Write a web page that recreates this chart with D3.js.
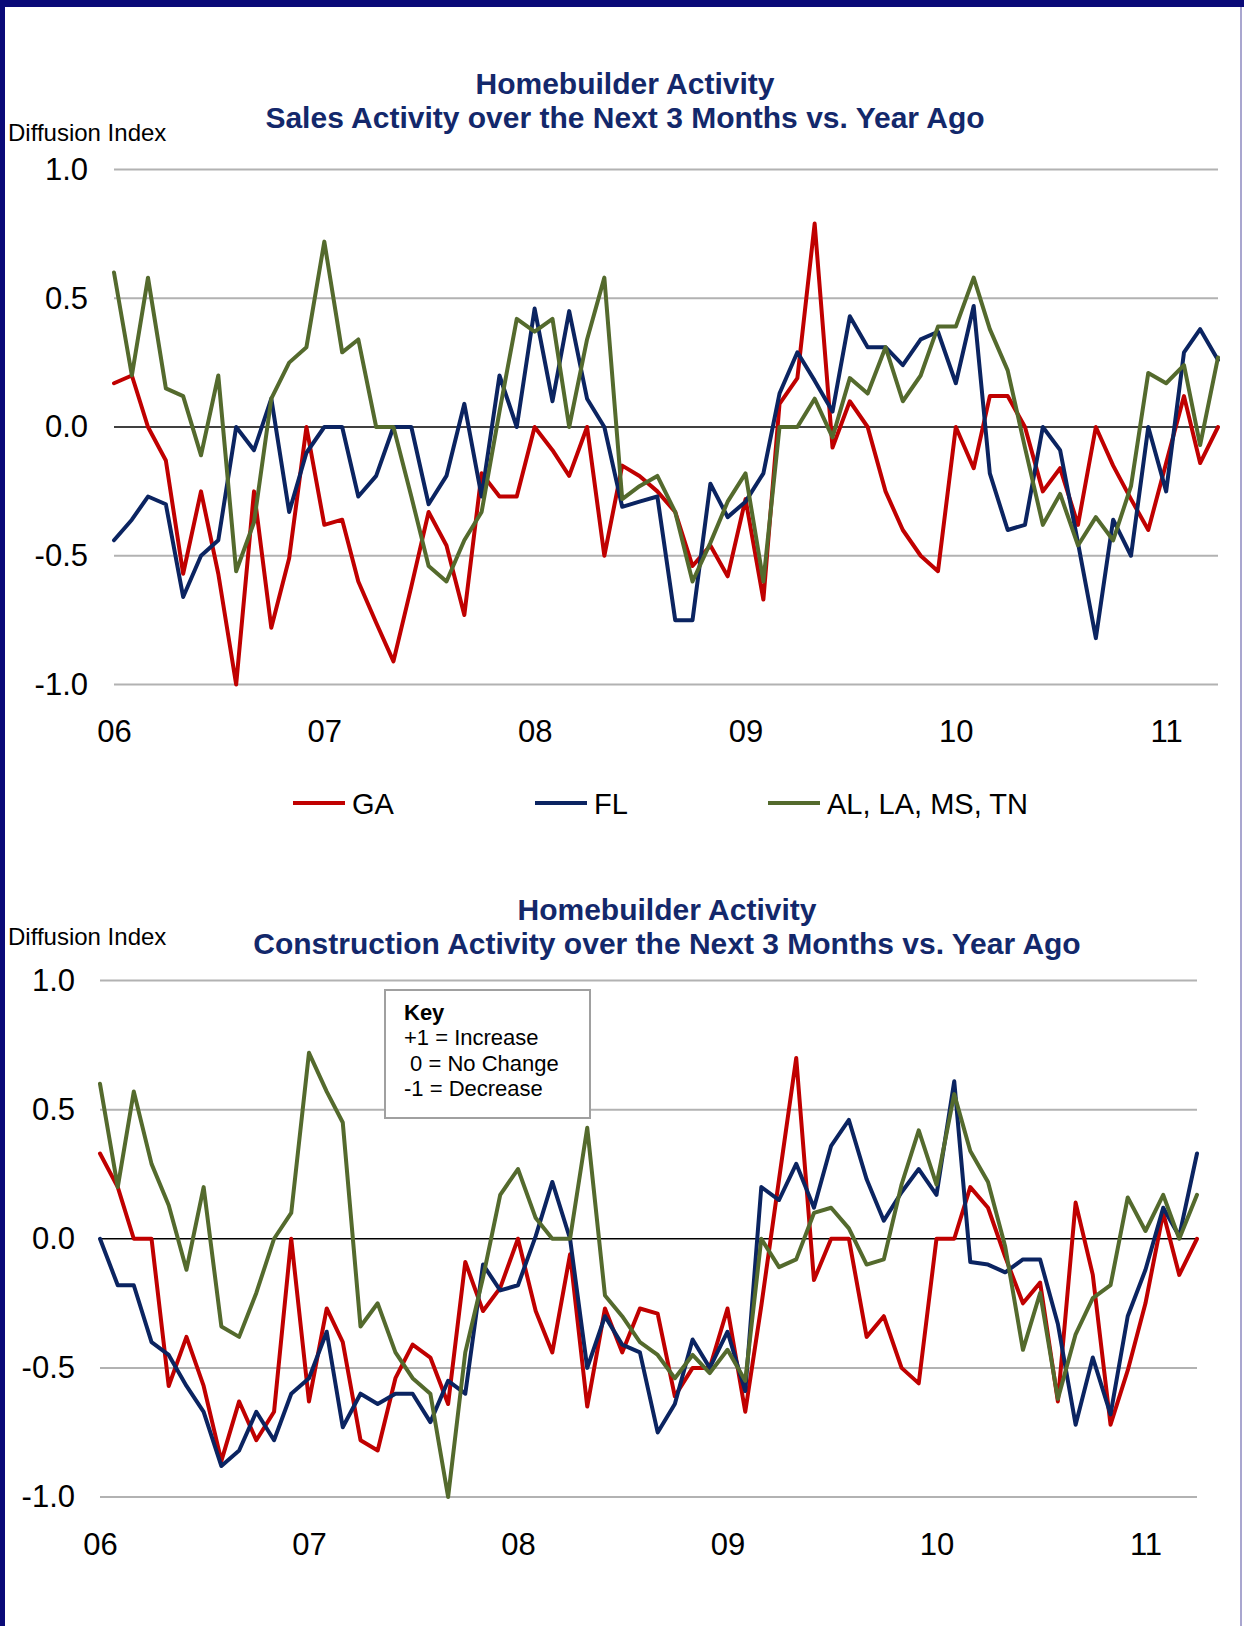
<!DOCTYPE html>
<html>
<head>
<meta charset="utf-8">
<script src="https://cdn.jsdelivr.net/npm/d3@7"></script>
<style>
  body { margin: 0; background: #fff; }
  svg { display: block; }
</style>
</head>
<body>
<svg id="chart" width="1244" height="1626"></svg>
<script>
// ---- data -------------------------------------------------------------
const yearLabels = ["06", "07", "08", "09", "10", "11"];
const yTicks = [1.0, 0.5, 0.0, -0.5, -1.0];
const seriesNames = ["GA", "FL", "AL, LA, MS, TN"];
const keyLines = ["+1 = Increase", " 0 = No Change", "-1 = Decrease"];

// monthly survey, Jan 2006 - Apr 2011
const startMonth = new Date(2006, 0, 1);
const endMonth = new Date(2011, 4, 1);

// Sales activity over the next 3 months vs. year ago
const salesGA = [0.17, 0.20, 0.00, -0.13, -0.57, -0.25, -0.57, -1.00, -0.25, -0.78, -0.51, 0.00,
  -0.38, -0.36, -0.60, -0.76, -0.91, -0.62, -0.33, -0.46, -0.73, -0.18, -0.27, -0.27,
  0.00, -0.09, -0.19, 0.00, -0.50, -0.15, -0.19, -0.25, -0.33, -0.54, -0.46, -0.58,
  -0.28, -0.67, 0.09, 0.19, 0.79, -0.08, 0.10, 0.00, -0.25, -0.40, -0.50, -0.56,
  0.00, -0.16, 0.12, 0.12, 0.00, -0.25, -0.16, -0.38, 0.00, -0.15, -0.28, -0.40,
  -0.14, 0.12, -0.14, 0.00];
const salesFL = [-0.44, -0.36, -0.27, -0.30, -0.66, -0.50, -0.44, 0.00, -0.09, 0.11, -0.33, -0.10,
  0.00, 0.00, -0.27, -0.19, 0.00, 0.00, -0.30, -0.19, 0.09, -0.27, 0.20, 0.00,
  0.46, 0.10, 0.45, 0.11, 0.00, -0.31, -0.29, -0.27, -0.75, -0.75, -0.22, -0.35,
  -0.29, -0.18, 0.13, 0.29, 0.18, 0.06, 0.43, 0.31, 0.31, 0.24, 0.34, 0.37,
  0.17, 0.47, -0.18, -0.40, -0.38, 0.00, -0.09, -0.45, -0.82, -0.36, -0.50, 0.00,
  -0.25, 0.29, 0.38, 0.26];
const salesALLAMSTN = [0.60, 0.20, 0.58, 0.15, 0.12, -0.11, 0.20, -0.56, -0.37, 0.11, 0.25, 0.31,
  0.72, 0.29, 0.34, 0.00, 0.00, -0.27, -0.54, -0.60, -0.44, -0.33, 0.06, 0.42,
  0.37, 0.42, 0.00, 0.34, 0.58, -0.28, -0.23, -0.19, -0.33, -0.60, -0.45, -0.29,
  -0.18, -0.60, 0.00, 0.00, 0.11, -0.04, 0.19, 0.13, 0.31, 0.10, 0.20, 0.39,
  0.39, 0.58, 0.38, 0.22, -0.08, -0.38, -0.26, -0.46, -0.35, -0.44, -0.23, 0.21,
  0.17, 0.24, -0.07, 0.27];

// Construction activity over the next 3 months vs. year ago
const buildGA = [0.33, 0.20, 0.00, 0.00, -0.57, -0.38, -0.57, -0.86, -0.63, -0.78, -0.67, 0.00,
  -0.63, -0.27, -0.40, -0.78, -0.82, -0.54, -0.41, -0.46, -0.64, -0.09, -0.28, -0.19,
  0.00, -0.28, -0.44, -0.06, -0.65, -0.27, -0.44, -0.27, -0.29, -0.61, -0.50, -0.50,
  -0.27, -0.67, -0.26, 0.23, 0.70, -0.16, 0.00, 0.00, -0.38, -0.30, -0.50, -0.56,
  0.00, 0.00, 0.20, 0.12, -0.07, -0.25, -0.17, -0.63, 0.14, -0.14, -0.72, -0.51,
  -0.25, 0.10, -0.14, 0.00];
const buildFL = [0.00, -0.18, -0.18, -0.40, -0.45, -0.57, -0.67, -0.88, -0.82, -0.67, -0.78, -0.60,
  -0.54, -0.36, -0.73, -0.60, -0.64, -0.60, -0.60, -0.71, -0.55, -0.60, -0.10, -0.20,
  -0.18, 0.01, 0.22, 0.00, -0.50, -0.30, -0.41, -0.44, -0.75, -0.64, -0.39, -0.50,
  -0.36, -0.59, 0.20, 0.15, 0.29, 0.12, 0.36, 0.46, 0.23, 0.07, 0.18, 0.27,
  0.17, 0.61, -0.09, -0.10, -0.13, -0.08, -0.08, -0.33, -0.72, -0.46, -0.68, -0.30,
  -0.12, 0.12, 0.01, 0.33];
const buildALLAMSTN = [0.60, 0.20, 0.57, 0.29, 0.13, -0.12, 0.20, -0.34, -0.38, -0.21, 0.00, 0.10,
  0.72, 0.57, 0.45, -0.34, -0.25, -0.44, -0.54, -0.60, -1.00, -0.44, -0.15, 0.17,
  0.27, 0.08, 0.00, 0.00, 0.43, -0.22, -0.30, -0.40, -0.45, -0.54, -0.45, -0.52,
  -0.43, -0.55, 0.00, -0.11, -0.08, 0.10, 0.12, 0.04, -0.10, -0.08, 0.21, 0.42,
  0.21, 0.56, 0.34, 0.22, -0.03, -0.43, -0.21, -0.62, -0.37, -0.23, -0.18, 0.16,
  0.03, 0.17, 0.00, 0.17];

// ---- styling ----------------------------------------------------------
const colors = ["#c00000", "#0b2461", "#546a2d"];
const navy = "#13286b";
const font = "'Liberation Sans', Arial, sans-serif";

const svg = d3.select("#chart");
const months = d3.timeMonth.range(startMonth, endMonth);

svg.append("rect").attr("width", 1244).attr("height", 1626).attr("fill", "#fff");

// page frame
svg.append("rect").attr("x", 0).attr("y", 0).attr("width", 1244).attr("height", 7).attr("fill", "#0a0a78");
svg.append("rect").attr("x", 0).attr("y", 0).attr("width", 5).attr("height", 1626).attr("fill", "#0a0a78");
svg.append("rect").attr("x", 1240).attr("y", 7).attr("width", 2).attr("height", 1619).attr("fill", "#a9a6cf");

function drawPanel(cfg) {
  const g = svg.append("g");
  const x = d3.scaleTime().domain([months[0], months[months.length - 1]]).range([cfg.x0, cfg.x1]);
  const y = d3.scaleLinear().domain([-1, 1]).range([cfg.yBottom, cfg.yTop]);

  // titles
  cfg.title.forEach((t, i) => {
    g.append("text")
      .attr("x", cfg.titleX).attr("y", cfg.titleY + i * 34)
      .attr("text-anchor", "middle")
      .attr("font-family", font).attr("font-weight", "bold")
      .attr("font-size", 30).attr("fill", navy)
      .text(t);
  });
  g.append("text")
    .attr("x", 8).attr("y", cfg.unitY)
    .attr("font-family", font).attr("font-size", 24).attr("fill", "#000")
    .text("Diffusion Index");

  // horizontal gridlines
  g.selectAll(".grid").data(yTicks.filter(d => d !== 0)).join("line")
    .attr("x1", cfg.x0).attr("x2", cfg.x1)
    .attr("y1", d => y(d)).attr("y2", d => y(d))
    .attr("stroke", "#b2b2b2").attr("stroke-width", 2);

  // y axis labels (plain hyphen for negatives)
  const yAxis = d3.axisLeft(y).tickValues(yTicks).tickFormat(d => d.toFixed(1)).tickSize(0).tickPadding(0);
  const ya = g.append("g").attr("transform", `translate(${cfg.yLabelRight},0)`).call(yAxis);
  ya.select(".domain").remove();
  ya.selectAll("text").attr("font-family", font).attr("font-size", 31).attr("fill", "#000");

  // x axis labels at each January
  const janTicks = months.filter(m => m.getMonth() === 0);
  const xAxis = d3.axisBottom(x).tickValues(janTicks).tickFormat((d, i) => yearLabels[i]).tickSize(0).tickPadding(0);
  const xa = g.append("g").attr("transform", `translate(0,${cfg.xLabelY})`).call(xAxis);
  xa.select(".domain").remove();
  xa.selectAll("text").attr("font-family", font).attr("font-size", 31).attr("fill", "#000")
    .attr("y", 0).attr("dy", 0);

  // key box drawn behind the series
  if (cfg.key) {
    const k = cfg.key;
    g.append("rect").attr("x", k.x).attr("y", k.y).attr("width", k.w).attr("height", k.h)
      .attr("fill", "#fff").attr("stroke", "#a0a0a0").attr("stroke-width", 2);
    g.append("text").attr("x", k.x + 19).attr("y", k.y + 30)
      .attr("font-family", font).attr("font-weight", "bold").attr("font-size", 22).text("Key");
    keyLines.forEach((t, i) => {
      g.append("text").attr("x", k.x + 19).attr("y", k.y + 55 + i * 25.5)
        .attr("font-family", font).attr("font-size", 22).attr("xml:space", "preserve")
        .style("white-space", "pre").text(t);
    });
  }

  // zero line
  g.append("line").attr("x1", cfg.x0).attr("x2", cfg.x1)
    .attr("y1", y(0)).attr("y2", y(0)).attr("stroke", "#000").attr("stroke-width", 1.6);

  // series
  const line = d3.line().x((d, i) => x(months[i])).y(d => y(d));
  cfg.series.forEach((s, si) => {
    g.append("path").datum(s)
      .attr("d", line)
      .attr("fill", "none").attr("stroke", colors[si])
      .attr("stroke-width", 4).attr("stroke-linejoin", "round").attr("stroke-linecap", "round");
  });

  // legend
  if (cfg.legend) {
    const lg = g.append("g");
    cfg.legend.forEach((p, i) => {
      lg.append("line").attr("x1", p[0]).attr("x2", p[0] + 52)
        .attr("y1", cfg.legendY).attr("y2", cfg.legendY)
        .attr("stroke", colors[i]).attr("stroke-width", 4);
      lg.append("text").attr("x", p[0] + 59).attr("y", cfg.legendY + 11)
        .attr("font-family", font).attr("font-size", 29).attr("fill", "#000")
        .text(seriesNames[i]);
    });
  }
}

drawPanel({
  x0: 114, x1: 1218, yTop: 169.5, yBottom: 684.5,
  yLabelRight: 88, xLabelY: 742,
  title: ["Homebuilder Activity", "Sales Activity over the Next 3 Months vs.  Year Ago"],
  titleX: 625, titleY: 94, unitY: 141,
  series: [salesGA, salesFL, salesALLAMSTN],
  legend: [[293], [535], [768]], legendY: 803
});

drawPanel({
  x0: 100, x1: 1197, yTop: 980.5, yBottom: 1497,
  yLabelRight: 75, xLabelY: 1555,
  title: ["Homebuilder Activity", "Construction Activity over the Next 3 Months vs. Year Ago"],
  titleX: 667, titleY: 920, unitY: 945,
  series: [buildGA, buildFL, buildALLAMSTN],
  key: { x: 385, y: 990, w: 205, h: 128 }
});
</script>
</body>
</html>
